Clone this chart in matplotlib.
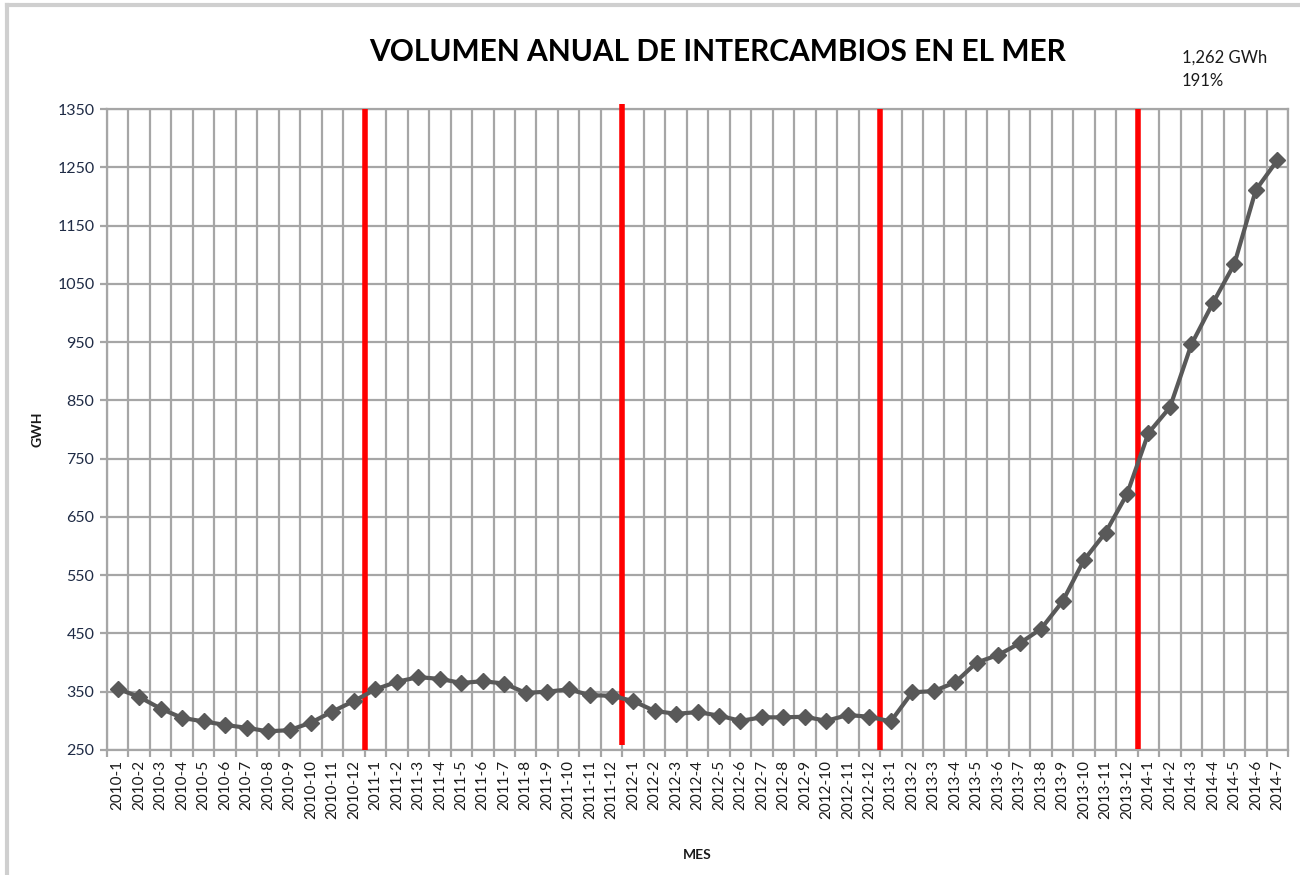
import matplotlib
matplotlib.use("Agg")
import matplotlib.pyplot as plt
from matplotlib.lines import Line2D

plt.rcParams['font.family'] = ['Lato', 'DejaVu Sans']

# monthly labels 2010-1 .. 2014-7
years = [2010, 2011, 2012, 2013, 2014]
months_per_year = [12, 12, 12, 12, 7]
labels = [f"{y}-{m}" for y, n in zip(years, months_per_year) for m in range(1, n + 1)]

gwh = [
    355, 341, 321, 305, 299, 293, 288, 282, 284, 297, 316, 334,
    354, 367, 375, 372, 365, 368, 364, 348, 350, 354, 344, 343,
    334, 317, 312, 315, 309, 300, 306, 306, 307, 300, 310, 307,
    299, 349, 351, 366, 400, 413, 433, 458, 505, 576, 623, 689,
    794, 838, 946, 1017, 1084, 1211, 1262,
]

# year change markers (index of boundary between months) and their vertical span
year_breaks = [11.5, 23.5, 35.5, 47.5]
break_lo = [250, 258, 250, 252]
break_hi = [1350, 1358, 1350, 1350]

yticks = list(range(250, 1351, 100))
note_lines = ["1,262 GWh", "191%"]

fig = plt.figure(figsize=(13, 8.75), dpi=100)
ax = fig.add_axes([0.0823, 0.1429, 0.9085, 0.7325])

x = list(range(len(labels)))
ax.set_xlim(-0.5, len(labels) - 0.5)
ax.set_ylim(250, 1350)

# grid: vertical lines on category boundaries, horizontal on ticks
ax.set_xticks(x)
ax.set_xticks([i - 0.5 for i in range(len(labels) + 1)], minor=True)
ax.set_xticklabels(labels, rotation=90, fontsize=11, color="#1a1a1a")
ax.set_yticks(yticks)
ax.set_yticklabels([str(v) for v in yticks], fontsize=11.5, color="#1F2B45")
ax.grid(True, which="minor", axis="x", color="#a6a6a6", lw=1.6)
ax.grid(True, which="major", axis="y", color="#a6a6a6", lw=1.6)
ax.set_axisbelow(True)
ax.tick_params(axis="x", which="major", length=0, pad=7)
ax.tick_params(axis="x", which="minor", length=5, color="#a6a6a6", width=1.6)
ax.tick_params(axis="y", length=5, color="#a6a6a6", width=1.6, pad=4)
for s in ax.spines.values():
    s.set_color("#a6a6a6")
    s.set_linewidth(1.6)

for bx, lo, hi in zip(year_breaks, break_lo, break_hi):
    ax.plot([bx, bx], [lo, hi], color="#ff0000", lw=4, solid_capstyle="butt",
            clip_on=False, zorder=3)

ax.plot(x, gwh, color="#595959", lw=3, marker="D", markersize=8.5,
        markeredgecolor="#595959", zorder=4)

ax.set_ylabel("GWH", fontsize=10, fontweight="bold", color="#1a1a1a", labelpad=10)
ax.set_xlabel("MES", fontsize=10, fontweight="bold", color="#1a1a1a", labelpad=22)

fig.text(0.552, 0.941, "VOLUMEN ANUAL DE INTERCAMBIOS EN EL MER", ha="center",
         va="center", fontsize=21.5, fontweight="bold", color="#000000")
fig.text(0.909, 0.921, "\n".join(note_lines), ha="left", va="center",
         fontsize=12, color="#1a1a1a", linespacing=1.6)

# outer chart frame (only top and left edges visible in the crop)
fig.add_artist(Line2D([7 / 1300, 7 / 1300], [0, 1 - 5 / 875], transform=fig.transFigure,
                      color="#cfcfcf", lw=3))
fig.add_artist(Line2D([7 / 1300, 1], [1 - 5 / 875, 1 - 5 / 875], transform=fig.transFigure,
                      color="#cfcfcf", lw=3))

fig.savefig("out.png", dpi=100)
